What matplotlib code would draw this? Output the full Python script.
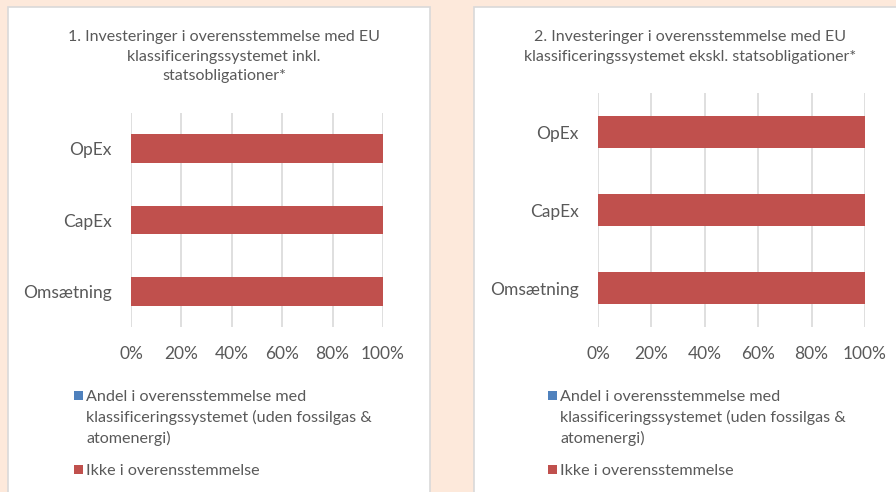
import matplotlib.pyplot as plt
from matplotlib.patches import Rectangle

plt.rcParams['font.family'] = ['Lato', 'DejaVu Sans']

categories = ["Omsætning", "CapEx", "OpEx"]
aligned = [0, 0, 0]
not_aligned = [100, 100, 100]
xticks = [0, 20, 40, 60, 80, 100]
xtick_labels = ["0%", "20%", "40%", "60%", "80%", "100%"]

titles = [
    "1. Investeringer i overensstemmelse med EU\nklassificeringssystemet inkl.\nstatsobligationer*",
    "2. Investeringer i overensstemmelse med EU\nklassificeringssystemet ekskl. statsobligationer*",
]
legend_labels = [
    "Andel i overensstemmelse med\nklassificeringssystemet (uden fossilgas &\natomenergi)",
    "Ikke i overensstemmelse",
]

blue = "#4F81BD"
red = "#C0504D"
grey_txt = "#595959"
bg = "#FDE9DB"

W, H = 896, 492
fig = plt.figure(figsize=(W / 100, H / 100), dpi=100, facecolor=bg)


def px(x0, y0, x1, y1):
    # pixel box (top-left origin) -> figure fraction rect
    return [x0 / W, 1 - y1 / H, (x1 - x0) / W, (y1 - y0) / H]


# white panels
for (x0, x1) in [(8, 430), (474, 900)]:
    r = px(x0, 7, x1, 500)
    fig.patches.append(Rectangle((r[0], r[1]), r[2], r[3], transform=fig.transFigure,
                                 facecolor="white", edgecolor="#D9D9D9", lw=1.2, zorder=-5))

panels = [
    dict(ax=(131, 113, 383, 327), title_x=224, title_y=30, leg_x=74),
    dict(ax=(598, 93, 865, 327), title_x=690, title_y=30, leg_x=548),
]

for p, title in zip(panels, titles):
    ax = fig.add_axes(px(*p["ax"]))
    ax.barh(categories, aligned, height=0.4, color=blue)
    ax.barh(categories, not_aligned, left=aligned, height=0.4, color=red)
    ax.set_xlim(0, 100)
    ax.set_ylim(-0.5, 2.5)
    ax.set_xticks(xticks)
    ax.set_xticklabels(xtick_labels)
    ax.xaxis.grid(True, color="#D9D9D9", lw=1.2)
    ax.set_axisbelow(True)
    for s in ax.spines.values():
        s.set_visible(False)
    ax.tick_params(length=0, labelsize=12.5, colors=grey_txt)
    ax.tick_params(axis="x", pad=14)
    ax.tick_params(axis="y", pad=14)
    ax.set_facecolor("none")

    fig.text(p["title_x"] / W, 1 - p["title_y"] / H, title, ha="center", va="top",
             fontsize=11.5, color=grey_txt, linespacing=1.5)

    # legend
    lx = p["leg_x"]
    for label, color, ty in zip(legend_labels, [blue, red], [390, 464]):
        fig.patches.append(Rectangle((lx / W, 1 - (ty + 10) / H), 9 / W, 9 / H,
                                     transform=fig.transFigure, facecolor=color, edgecolor="none"))
        fig.text((lx + 12) / W, 1 - ty / H, label, ha="left", va="top",
                 fontsize=11.6, color=grey_txt, linespacing=1.5)

fig.savefig("out.png", dpi=100, facecolor=bg)
